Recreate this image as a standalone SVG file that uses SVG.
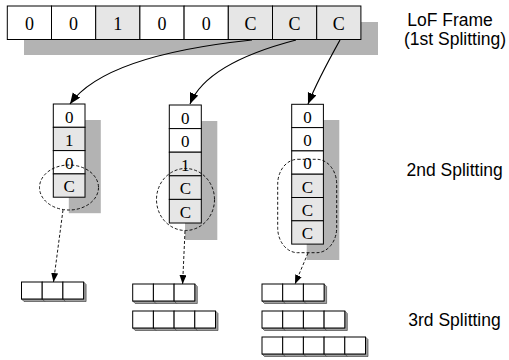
<svg xmlns="http://www.w3.org/2000/svg" xmlns:xlink="http://www.w3.org/1999/xlink" width="509" height="360" viewBox="0 0 509 360">
<style>
.sh{fill:#b3b3b3;stroke:none}
.w{fill:#ffffff;stroke:#000;stroke-width:1}
.g{fill:#e6e6e6;stroke:#000;stroke-width:1}
.ct{font-family:"Liberation Serif","Times New Roman",serif;font-size:18px;text-anchor:middle;fill:#000}
.cc{font-family:"Liberation Serif","Times New Roman",serif;font-size:17px;text-anchor:middle;fill:#000}
.lbl{font-family:"Liberation Sans",Arial,Helvetica,sans-serif;font-size:17.5px;fill:#000}
.dash{fill:none;stroke:#000;stroke-width:0.9;stroke-dasharray:3,2}
.arr{fill:none;stroke:#000;stroke-width:1.2}
.darr{fill:none;stroke:#000;stroke-width:0.9;stroke-dasharray:3,2}
</style>
<defs>
<marker id="ah" markerUnits="userSpaceOnUse" markerWidth="12" markerHeight="10" refX="11" refY="4.5" orient="auto">
<path d="M0,0 L11,4.5 L0,9 z" fill="#000"/>
</marker>
<marker id="ahs" markerUnits="userSpaceOnUse" markerWidth="10" markerHeight="8" refX="9" refY="3.5" orient="auto">
<path d="M0,0 L9,3.5 L0,7 z" fill="#000"/>
</marker>
<g id="cube">
<polygon points="0,17 2.5,19.5 23.2,19.5 23.2,2.5 20.7,0 20.7,17" fill="#a0a0a0" stroke="#333" stroke-width="0.6"/>
<rect x="0" y="0" width="20.7" height="17" fill="#fff" stroke="#000" stroke-width="1"/>
</g>
</defs>

<g id="frame">
<rect class="sh" x="24" y="22" width="354" height="33"/>
<rect class="w" x="7.3" y="6" width="44.2" height="33.5"/>
<rect class="w" x="51.5" y="6" width="44.2" height="33.5"/>
<rect class="g" x="95.7" y="6" width="44.2" height="33.5"/>
<rect class="w" x="139.9" y="6" width="44.2" height="33.5"/>
<rect class="w" x="184.1" y="6" width="44.2" height="33.5"/>
<rect class="g" x="228.3" y="6" width="44.2" height="33.5"/>
<rect class="g" x="272.5" y="6" width="44.2" height="33.5"/>
<rect class="g" x="316.7" y="6" width="44.2" height="33.5"/>
<text class="ct" x="29.4" y="30">0</text>
<text class="ct" x="73.6" y="30">0</text>
<text class="ct" x="117.8" y="30">1</text>
<text class="ct" x="162" y="30">0</text>
<text class="ct" x="206.2" y="30">0</text>
<text class="ct" x="250.4" y="30">C</text>
<text class="ct" x="294.6" y="30">C</text>
<text class="ct" x="338.8" y="30">C</text>
</g>

<g id="col1">
<rect class="sh" x="68.8" y="120" width="32" height="93.2"/>
<rect class="w" x="53.3" y="104" width="31.7" height="23.3"/>
<rect class="g" x="53.3" y="127.3" width="31.7" height="23.3"/>
<rect class="w" x="53.3" y="150.6" width="31.7" height="23.3"/>
<rect class="g" x="53.3" y="173.9" width="31.7" height="23.3"/>
<text class="cc" x="69.2" y="122.5">0</text>
<text class="cc" x="69.2" y="145.8">1</text>
<text class="cc" x="69.2" y="169.1">0</text>
<text class="cc" x="69.2" y="192.4">C</text>
<ellipse class="dash" cx="69" cy="187.5" rx="29.5" ry="22.5"/>
</g>

<g id="col2">
<rect class="sh" x="185" y="121" width="32.3" height="119"/>
<rect class="w" x="169.3" y="105" width="32" height="23.6"/>
<rect class="w" x="169.3" y="128.6" width="32" height="23.6"/>
<rect class="g" x="169.3" y="152.2" width="32" height="23.6"/>
<rect class="g" x="169.3" y="175.8" width="32" height="23.6"/>
<rect class="g" x="169.3" y="199.4" width="32" height="23.6"/>
<text class="cc" x="185.3" y="123.5">0</text>
<text class="cc" x="185.3" y="147.1">0</text>
<text class="cc" x="185.3" y="170.7">1</text>
<text class="cc" x="185.3" y="194.3">C</text>
<text class="cc" x="185.3" y="217.9">C</text>
<ellipse class="dash" cx="185.5" cy="199.5" rx="29" ry="31"/>
</g>

<g id="col3">
<rect class="sh" x="306.7" y="120" width="32.6" height="140"/>
<rect class="w" x="291.7" y="104.3" width="31.7" height="23.3"/>
<rect class="w" x="291.7" y="127.6" width="31.7" height="23.3"/>
<rect class="w" x="291.7" y="150.9" width="31.7" height="23.3"/>
<rect class="g" x="291.7" y="174.2" width="31.7" height="23.3"/>
<rect class="g" x="291.7" y="197.5" width="31.7" height="23.3"/>
<rect class="g" x="291.7" y="220.8" width="31.7" height="23.3"/>
<text class="cc" x="307.5" y="122.8">0</text>
<text class="cc" x="307.5" y="146.1">0</text>
<text class="cc" x="307.5" y="169.4">0</text>
<text class="cc" x="307.5" y="192.7">C</text>
<text class="cc" x="307.5" y="216">C</text>
<text class="cc" x="307.5" y="239.3">C</text>
<rect class="dash" x="277.7" y="159.3" width="59" height="93.4" rx="20" ry="25"/>
</g>

<g id="rows1">
<use xlink:href="#cube" x="21.5" y="282"/>
<use xlink:href="#cube" x="42.2" y="282"/>
<use xlink:href="#cube" x="62.9" y="282"/>
</g>
<g id="rows2">
<use xlink:href="#cube" x="132.7" y="284"/>
<use xlink:href="#cube" x="153.4" y="284"/>
<use xlink:href="#cube" x="174.1" y="284"/>
<use xlink:href="#cube" x="132.7" y="311"/>
<use xlink:href="#cube" x="153.4" y="311"/>
<use xlink:href="#cube" x="174.1" y="311"/>
<use xlink:href="#cube" x="194.8" y="311"/>
</g>
<g id="rows3">
<use xlink:href="#cube" x="262" y="284"/>
<use xlink:href="#cube" x="282.7" y="284"/>
<use xlink:href="#cube" x="303.4" y="284"/>
<use xlink:href="#cube" x="262" y="311"/>
<use xlink:href="#cube" x="282.7" y="311"/>
<use xlink:href="#cube" x="303.4" y="311"/>
<use xlink:href="#cube" x="324.1" y="311"/>
<use xlink:href="#cube" x="262" y="337"/>
<use xlink:href="#cube" x="282.7" y="337"/>
<use xlink:href="#cube" x="303.4" y="337"/>
<use xlink:href="#cube" x="324.1" y="337"/>
<use xlink:href="#cube" x="344.8" y="337"/>
</g>

<g id="connectors">
<path class="arr" d="M252,40 C185,47 100,62 70,104" marker-end="url(#ah)"/>
<path class="arr" d="M296,40 C250,52 203,72 190,104" marker-end="url(#ah)"/>
<path class="arr" d="M340,40 C330,58 316,84 308,104" marker-end="url(#ah)"/>
<path class="darr" d="M63,210 L53.5,282" marker-end="url(#ahs)"/>
<path class="darr" d="M185,231 L182.6,284" marker-end="url(#ahs)"/>
<path class="darr" d="M308,253 L295,284" marker-end="url(#ahs)"/>
</g>

<g id="labels">
<text class="lbl" x="450" y="26" text-anchor="middle">LoF Frame</text>
<text class="lbl" x="455" y="45" text-anchor="middle">(1st Splitting)</text>
<text class="lbl" x="406.5" y="175.7">2nd Splitting</text>
<text class="lbl" x="408.3" y="325.7">3rd Splitting</text>
</g>
</svg>
